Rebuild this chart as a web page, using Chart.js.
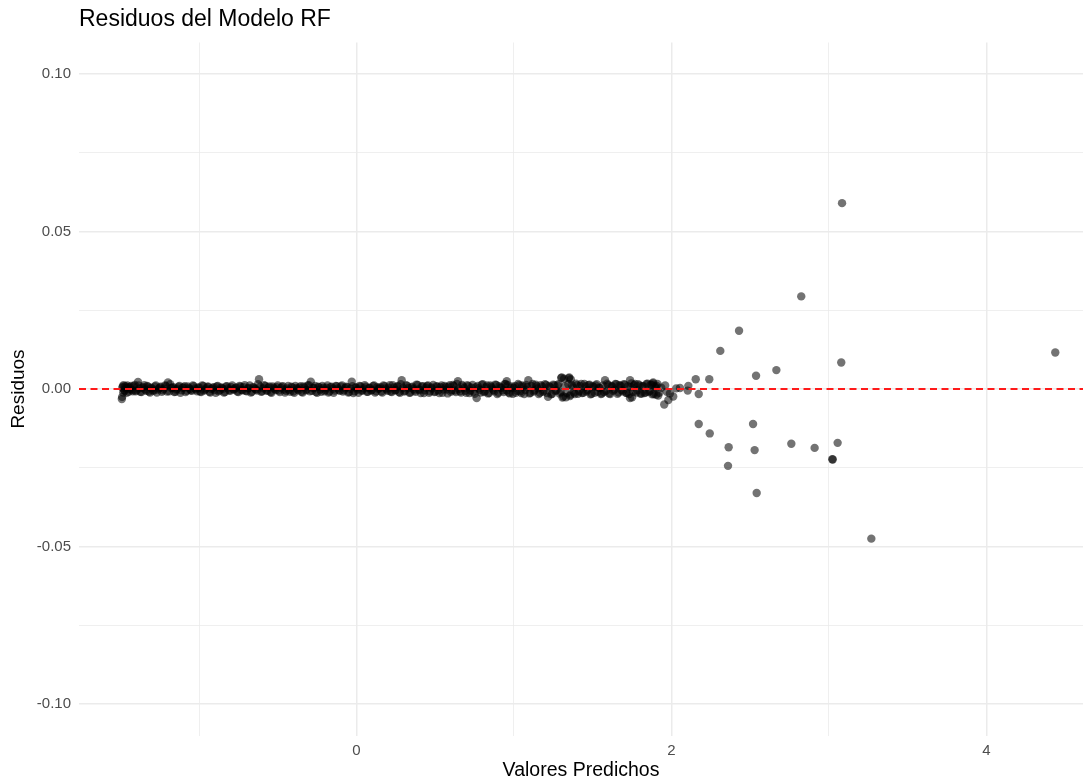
<!DOCTYPE html>
<html>
<head>
<meta charset="utf-8">
<script src="https://cdn.jsdelivr.net/npm/chart.js@4.4.1/dist/chart.umd.min.js"></script>
<style>
  html, body { margin: 0; padding: 0; background: #fff; }
  #wrap { width: 1091px; height: 780px; }
</style>
</head>
<body>
<div id="wrap"><canvas id="resChart" width="1091" height="780"></canvas></div>
<script>
// valores predichos / residuos (banda densa cerca de 0)
const predBand = [
  -1.490, -1.488, -1.484, -1.479, -1.472, -1.463, -1.455, -1.446, -1.437, -1.425,
  -1.414, -1.402, -1.387, -1.378, -1.366, -1.352, -1.341, -1.329, -1.318, -1.305,
  -1.293, -1.280, -1.268, -1.255, -1.243, -1.229, -1.216, -1.197, -1.189, -1.176,
  -1.163, -1.150, -1.138, -1.124, -1.111, -1.097, -1.085, -1.072, -1.058, -1.046,
  -1.033, -1.019, -1.006, -0.993, -0.980, -0.967, -0.954, -0.940, -0.928, -0.914,
  -0.901, -0.888, -0.875, -0.861, -0.849, -0.835, -0.822, -0.809, -0.796, -0.782,
  -0.770, -0.757, -0.743, -0.730, -0.717, -0.704, -0.690, -0.678, -0.664, -0.651,
  -0.638, -0.619, -0.612, -0.599, -0.586, -0.572, -0.559, -0.546, -0.533, -0.520,
  -0.507, -0.494, -0.480, -0.467, -0.454, -0.441, -0.428, -0.414, -0.401, -0.388,
  -0.375, -0.362, -0.349, -0.336, -0.322, -0.309, -0.290, -0.283, -0.270, -0.257,
  -0.244, -0.231, -0.217, -0.204, -0.191, -0.178, -0.165, -0.151, -0.138, -0.125,
  -0.112, -0.099, -0.086, -0.072, -0.059, -0.046, -0.030, -0.020, -0.007, 0.006,
  0.019, 0.032, 0.046, 0.059, 0.072, 0.085, 0.098, 0.112, 0.125, 0.138,
  0.151, 0.164, 0.178, 0.191, 0.204, 0.217, 0.230, 0.244, 0.257, 0.270,
  0.287, 0.296, 0.309, 0.322, 0.336, 0.349, 0.362, 0.375, 0.388, 0.401,
  0.415, 0.428, 0.441, 0.454, 0.467, 0.480, 0.494, 0.507, 0.520, 0.533,
  0.546, 0.559, 0.572, 0.586, 0.599, 0.612, 0.625, 0.644, 0.651, 0.664,
  0.678, 0.691, 0.704, 0.717, 0.730, 0.743, 0.763, 0.770, 0.783, 0.796,
  0.809, 0.822, 0.835, 0.849, 0.862, 0.875, 0.888, 0.901, 0.914, 0.928,
  0.941, 0.954, 0.967, 0.980, 0.993, 1.006, 1.020, 1.033, 1.046, 1.059,
  1.072, 1.091, 1.098, 1.111, 1.125, 1.138, 1.151, 1.164, 1.177, 1.190,
  1.203, 1.216, 1.230, 1.243, 1.256, 1.269, 1.282, 1.296, 1.303, 1.313,
  1.322, 1.335, 1.351, 1.356, 1.361, 1.374, 1.387, 1.400, 1.414, 1.427,
  1.440, 1.453, 1.466, 1.479, 1.493, 1.506, 1.519, 1.532, 1.545, 1.558,
  1.578, 1.585, 1.598, 1.611, 1.624, 1.637, 1.650, 1.664, 1.677, 1.690,
  1.703, 1.716, 1.737, 1.737, 1.743, 1.756, 1.769, 1.782, 1.796, 1.809,
  1.822, 1.835, 1.848, 1.861, 1.874, 1.881, 1.887, 1.900, 1.906, 1.916
];
const residBand = [
  -0.0032, -0.0025, 0.0008, 0.0012, -0.0006, 0.0003, 0.0011, -0.0009, 0.0005, -0.0003,
  0.0009, -0.0007, 0.0022, 0.0002, -0.0010, 0.0006, -0.0002, 0.0010, -0.0008, 0.0004,
  -0.0005, 0.0008, -0.0011, 0.0002, 0.0007, -0.0004, 0.0011, 0.0021, -0.0007, 0.0003,
  0.0006, -0.0009, 0.0001, 0.0010, -0.0004, 0.0005, -0.0010, 0.0008, 0.0000, -0.0006,
  0.0009, -0.0002, 0.0004, -0.0008, 0.0011, -0.0005, 0.0002, 0.0007, -0.0011, 0.0003,
  -0.0003, 0.0008, -0.0007, 0.0005, 0.0001, -0.0010, 0.0009, -0.0004, 0.0006, -0.0001,
  0.0003, -0.0008, 0.0010, -0.0003, 0.0006, -0.0006, 0.0002, 0.0011, -0.0009, 0.0004,
  -0.0002, 0.0031, 0.0007, -0.0007, 0.0012, -0.0004, 0.0005, -0.0010, 0.0008, 0.0000,
  0.0006, -0.0005, 0.0003, 0.0009, -0.0011, 0.0002, -0.0003, 0.0007, -0.0008, 0.0010,
  -0.0001, 0.0005, -0.0009, 0.0008, -0.0004, 0.0011, 0.0023, -0.0006, 0.0003, -0.0010,
  0.0007, -0.0002, 0.0010, -0.0007, 0.0004, -0.0011, 0.0006, 0.0001, -0.0005, 0.0009,
  -0.0003, 0.0008, -0.0008, 0.0003, 0.0006, -0.0010, 0.0023, -0.0013, 0.0005, -0.0002,
  0.0010, -0.0006, 0.0002, 0.0007, -0.0009, 0.0004, -0.0003, 0.0011, -0.0007, 0.0001,
  0.0006, -0.0011, 0.0009, -0.0002, 0.0004, -0.0008, 0.0012, -0.0004, 0.0007, -0.0010,
  0.0028, 0.0003, -0.0006, 0.0010, -0.0012, 0.0005, 0.0000, -0.0009, 0.0013, -0.0003,
  0.0008, -0.0013, 0.0004, 0.0011, -0.0007, 0.0002, -0.0010, 0.0009, -0.0004, 0.0006,
  -0.0012, 0.0010, -0.0002, 0.0007, -0.0009, 0.0013, -0.0005, 0.0025, 0.0001, -0.0011,
  0.0008, -0.0006, 0.0012, -0.0013, 0.0004, -0.0008, -0.0029, 0.0010, -0.0003, 0.0014,
  -0.0010, 0.0006, -0.0014, 0.0011, 0.0002, -0.0007, 0.0013, -0.0012, 0.0005, -0.0004,
  0.0015, 0.0025, -0.0011, 0.0003, -0.0015, 0.0009, -0.0006, 0.0012, -0.0013, 0.0007,
  -0.0003, 0.0028, -0.0014, 0.0010, -0.0008, 0.0014, 0.0002, -0.0012, 0.0008, -0.0005,
  0.0013, -0.0025, 0.0006, -0.0015, 0.0011, -0.0004, 0.0015, -0.0010, 0.0037, -0.0024,
  0.0009, -0.0013, 0.0037, -0.0022, 0.0030, 0.0005, -0.0016, 0.0012, -0.0007, 0.0016,
  -0.0012, 0.0008, -0.0003, 0.0014, -0.0015, 0.0006, 0.0011, -0.0009, 0.0003, -0.0014,
  0.0028, -0.0006, 0.0013, -0.0016, 0.0008, -0.0002, 0.0015, -0.0011, 0.0010, -0.0007,
  0.0014, -0.0013, 0.0028, -0.0029, 0.0006, -0.0009, 0.0016, -0.0004, 0.0011, -0.0015,
  0.0009, -0.0011, 0.0017, -0.0006, 0.0013, 0.0018, -0.0016, 0.0005, 0.0010, -0.0021
];

// segunda capa de la banda (más puntos solapados)
const predBand2 = [
  -1.486, -1.481, -1.476, -1.468, -1.459, -1.450, -1.441, -1.431, -1.420, -1.408,
  -1.396, -1.384, -1.372, -1.360, -1.347, -1.335, -1.323, -1.311, -1.299, -1.286,
  -1.274, -1.262, -1.249, -1.236, -1.223, -1.210, -1.203, -1.183, -1.170, -1.157,
  -1.144, -1.131, -1.118, -1.104, -1.091, -1.078, -1.065, -1.052, -1.039, -1.026,
  -1.012, -0.999, -0.986, -0.973, -0.960, -0.947, -0.934, -0.921, -0.907, -0.894,
  -0.881, -0.868, -0.855, -0.842, -0.829, -0.816, -0.802, -0.789, -0.776, -0.763,
  -0.750, -0.737, -0.723, -0.710, -0.697, -0.684, -0.671, -0.657, -0.644, -0.631,
  -0.625, -0.605, -0.592, -0.579, -0.566, -0.553, -0.540, -0.526, -0.513, -0.500,
  -0.487, -0.474, -0.461, -0.447, -0.434, -0.421, -0.408, -0.395, -0.381, -0.368,
  -0.355, -0.342, -0.329, -0.316, -0.302, -0.296, -0.277, -0.263, -0.250, -0.237,
  -0.224, -0.211, -0.198, -0.184, -0.171, -0.158, -0.145, -0.131, -0.118, -0.105,
  -0.092, -0.079, -0.066, -0.052, -0.039, -0.026, -0.013, 0.000, 0.013, 0.026,
  0.039, 0.052, 0.066, 0.079, 0.092, 0.105, 0.118, 0.131, 0.145, 0.158,
  0.171, 0.184, 0.197, 0.211, 0.224, 0.237, 0.250, 0.263, 0.276, 0.281,
  0.302, 0.316, 0.329, 0.342, 0.355, 0.368, 0.381, 0.395, 0.408, 0.421,
  0.434, 0.447, 0.461, 0.474, 0.487, 0.500, 0.513, 0.526, 0.540, 0.553,
  0.566, 0.579, 0.592, 0.605, 0.618, 0.631, 0.638, 0.657, 0.671, 0.684,
  0.697, 0.710, 0.723, 0.737, 0.750, 0.757, 0.776, 0.789, 0.802, 0.815,
  0.829, 0.842, 0.855, 0.868, 0.881, 0.894, 0.907, 0.921, 0.934, 0.947,
  0.954, 0.960, 0.973, 0.986, 0.999, 1.012, 1.026, 1.039, 1.052, 1.065,
  1.078, 1.085, 1.104, 1.118, 1.131, 1.144, 1.157, 1.170, 1.184, 1.197,
  1.210, 1.223, 1.236, 1.249, 1.262, 1.276, 1.289, 1.300, 1.308, 1.318,
  1.330, 1.345, 1.348, 1.358, 1.368, 1.381, 1.394, 1.407, 1.420, 1.433,
  1.447, 1.460, 1.473, 1.486, 1.499, 1.512, 1.525, 1.539, 1.552, 1.565,
  1.572, 1.591, 1.604, 1.617, 1.631, 1.644, 1.657, 1.670, 1.683, 1.697,
  1.710, 1.723, 1.731, 1.746, 1.750, 1.762, 1.776, 1.789, 1.802, 1.815,
  1.828, 1.841, 1.855, 1.868, 1.878, 1.884, 1.893, 1.903, 1.911, 1.922
];
const residBand2 = [
  0.0004, -0.0011, -0.0003, 0.0009, -0.0012, 0.0006, -0.0001, 0.0010, -0.0007, 0.0013,
  -0.0004, 0.0011, -0.0009, 0.0004, 0.0012, -0.0006, 0.0007, -0.0011, 0.0002, -0.0005,
  0.0011, -0.0002, 0.0005, -0.0009, 0.0001, 0.0010, -0.0008, 0.0015, 0.0004, -0.0010,
  -0.0002, 0.0007, -0.0012, 0.0004, 0.0009, -0.0006, 0.0003, -0.0004, 0.0011, 0.0002,
  -0.0007, 0.0005, -0.0010, 0.0010, -0.0002, 0.0007, -0.0009, 0.0000, 0.0006, -0.0012,
  0.0010, -0.0004, 0.0003, -0.0011, 0.0008, 0.0002, -0.0006, 0.0011, -0.0002, 0.0005,
  -0.0010, 0.0007, -0.0004, 0.0012, -0.0007, 0.0003, -0.0011, 0.0006, 0.0000, -0.0005,
  0.0015, -0.0009, 0.0002, 0.0010, -0.0006, 0.0008, -0.0012, 0.0004, -0.0003, 0.0011,
  -0.0010, 0.0007, -0.0002, -0.0006, 0.0010, -0.0009, 0.0005, -0.0012, 0.0003, -0.0004,
  0.0009, -0.0011, 0.0005, -0.0002, 0.0012, -0.0007, 0.0003, 0.0010, -0.0012, 0.0006,
  -0.0009, 0.0004, -0.0003, 0.0011, -0.0008, 0.0007, -0.0012, 0.0010, 0.0002, -0.0006,
  0.0011, -0.0004, 0.0007, -0.0011, 0.0001, 0.0009, -0.0007, 0.0004, -0.0012, 0.0008,
  -0.0004, 0.0012, -0.0009, 0.0003, -0.0005, 0.0010, -0.0011, 0.0006, 0.0002, -0.0008,
  0.0011, 0.0002, -0.0006, 0.0012, -0.0010, 0.0005, -0.0003, 0.0009, -0.0012, 0.0015,
  -0.0008, 0.0012, 0.0003, -0.0011, 0.0007, -0.0005, 0.0014, -0.0001, -0.0013, 0.0009,
  -0.0004, 0.0010, -0.0012, 0.0005, 0.0013, -0.0008, 0.0007, -0.0013, 0.0011, -0.0002,
  0.0006, -0.0014, 0.0012, -0.0004, 0.0010, -0.0010, 0.0016, -0.0007, 0.0013, 0.0003,
  -0.0012, 0.0009, -0.0005, 0.0013, -0.0015, 0.0006, 0.0002, -0.0011, 0.0015, -0.0007,
  0.0011, -0.0013, 0.0007, -0.0003, 0.0014, -0.0016, 0.0009, 0.0004, -0.0010, 0.0016,
  -0.0005, 0.0012, -0.0014, 0.0008, 0.0003, -0.0012, 0.0016, -0.0007, 0.0011, -0.0016,
  0.0013, 0.0006, -0.0012, 0.0016, -0.0004, 0.0009, -0.0016, 0.0012, -0.0009, 0.0015,
  -0.0013, 0.0010, -0.0017, 0.0014, -0.0006, 0.0011, -0.0014, 0.0035, -0.0027, 0.0033,
  -0.0026, 0.0015, 0.0034, -0.0018, 0.0012, -0.0011, 0.0017, -0.0015, 0.0010, -0.0013,
  0.0016, -0.0008, 0.0012, -0.0017, 0.0009, -0.0012, 0.0015, 0.0004, -0.0016, 0.0011,
  -0.0010, 0.0017, -0.0014, 0.0010, -0.0006, 0.0016, -0.0015, 0.0012, -0.0003, 0.0015,
  -0.0012, 0.0009, -0.0016, 0.0018, -0.0026, 0.0012, -0.0011, 0.0015, -0.0014, 0.0009,
  -0.0013, 0.0016, -0.0010, 0.0014, -0.0017, 0.0021, 0.0008, -0.0018, 0.0016, -0.0012
];

// puntos dispersos a partir de ~1.93
const predTail = [
  1.935, 1.954, 1.960, 1.970, 1.980, 1.990, 2.011, 2.030, 2.054, 2.103,
  2.107, 2.154, 2.173, 2.173, 2.240, 2.243, 2.310, 2.359, 2.363, 2.429,
  2.518, 2.528, 2.537, 2.541, 2.666, 2.761, 2.824, 2.909, 3.021, 3.024,
  3.055, 3.078, 3.083, 3.269, 4.437
];
const residTail = [
  0.0004, -0.0049, 0.0011, -0.0009, -0.0035, -0.0014, -0.0024, 0.0002, 0.0003, -0.0005,
  0.0010, 0.0031, -0.0016, -0.0111, 0.0031, -0.0141, 0.0121, -0.0244, -0.0185, 0.0185,
  -0.0111, -0.0194, 0.0042, -0.0330, 0.0060, -0.0174, 0.0294, -0.0187, -0.0223, -0.0224,
  -0.0171, 0.0084, 0.0590, -0.0475, 0.0116
];

const xMin = -1.762, xMax = 4.613;
const yMin = -0.11, yMax = 0.11;
const hLineY = 0;

const FONT = "'Liberation Sans', Arial, Helvetica, sans-serif";
const GRID = '#ebebeb';

const toPts = (xs, ys) => xs.map((x, i) => ({ x: x, y: ys[i] }));
const points = toPts(predBand, residBand)
  .concat(toPts(predBand2, residBand2))
  .concat(toPts(predTail, residTail));

const isMajorX = (v) => Math.abs(v / 2 - Math.round(v / 2)) < 1e-6;
const isMajorY = (v) => Math.abs(v * 20 - Math.round(v * 20)) < 1e-6;

const ctx = document.getElementById('resChart').getContext('2d');
new Chart(ctx, {
  type: 'scatter',
  data: {
    datasets: [
      {
        type: 'line',
        data: [{ x: xMin, y: hLineY }, { x: xMax, y: hLineY }],
        borderColor: '#ff1a1a',
        borderWidth: 2,
        borderDash: [7, 4.5],
        pointRadius: 0,
        order: 0
      },
      {
        data: points,
        backgroundColor: 'rgba(0,0,0,0.55)',
        borderWidth: 0,
        pointRadius: 4.2,
        order: 1
      }
    ]
  },
  options: {
    responsive: false,
    animation: false,
    layout: { padding: { left: 0, right: 8, top: 0, bottom: 0 } },
    plugins: {
      legend: { display: false },
      tooltip: { enabled: false },
      title: {
        display: true,
        text: 'Residuos del Modelo RF',
        align: 'start',
        fullSize: false,
        color: '#000',
        font: { family: FONT, size: 23, weight: 'normal', lineHeight: 1.2 },
        padding: { top: 6.2, bottom: 8.7 }
      }
    },
    scales: {
      x: {
        type: 'linear',
        min: xMin,
        max: xMax,
        afterFit: (scale) => { scale.height = 44.5; },
        border: { display: false },
        grid: {
          drawTicks: false,
          color: GRID,
          lineWidth: (c) => (c.tick && isMajorX(c.tick.value) ? 1.5 : 0.8)
        },
        ticks: {
          stepSize: 1,
          includeBounds: false,
          autoSkip: false,
          maxRotation: 0,
          padding: 6,
          color: '#4d4d4d',
          font: { family: FONT, size: 15 },
          callback: (v) => (isMajorX(v) ? String(Math.round(v)) : '')
        },
        title: {
          display: true,
          text: 'Valores Predichos',
          color: '#000',
          font: { family: FONT, size: 19.5, lineHeight: 1 },
          padding: { top: 0, bottom: 0 }
        }
      },
      y: {
        type: 'linear',
        min: yMin,
        max: yMax,
        afterFit: (scale) => { scale.width = 79; },
        border: { display: false },
        grid: {
          drawTicks: false,
          color: GRID,
          lineWidth: (c) => (c.tick && isMajorY(c.tick.value) ? 1.5 : 0.8)
        },
        ticks: {
          stepSize: 0.025,
          includeBounds: false,
          autoSkip: false,
          padding: 8,
          color: '#4d4d4d',
          font: { family: FONT, size: 15 },
          callback: (v) => (isMajorY(v) ? v.toFixed(2) : '')
        },
        title: {
          display: true,
          text: 'Residuos',
          color: '#000',
          font: { family: FONT, size: 19, lineHeight: 1 },
          padding: { top: 9.5, bottom: 0 }
        }
      }
    }
  }
});
</script>
</body>
</html>
